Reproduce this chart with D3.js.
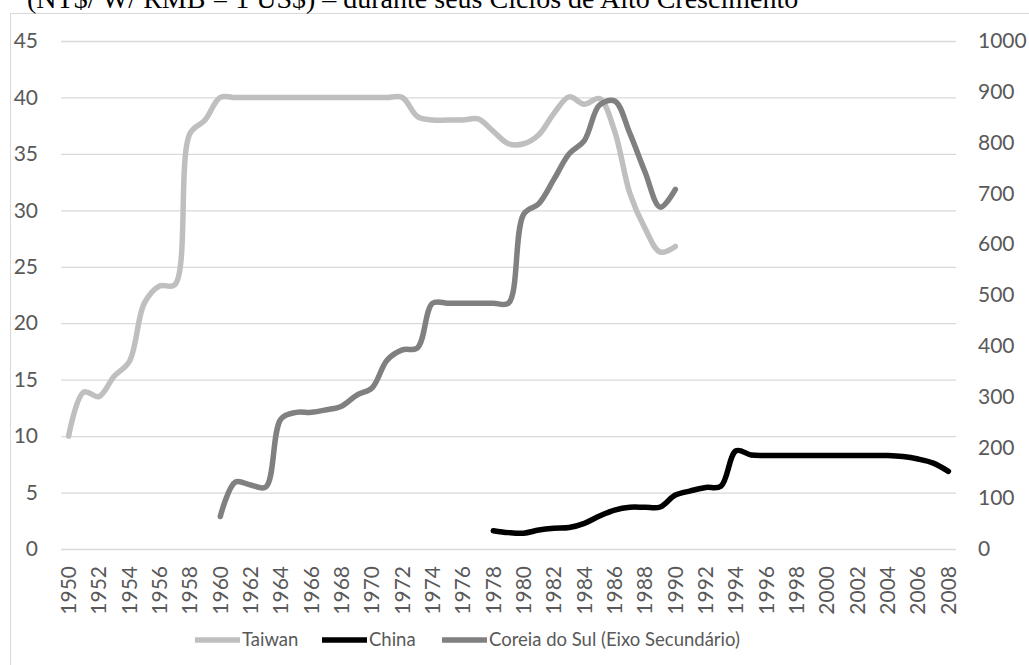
<!DOCTYPE html>
<html>
<head>
<meta charset="utf-8">
<script src="https://cdn.jsdelivr.net/npm/d3@7"></script>
<style>
  html, body { margin: 0; padding: 0; background: #fff; }
  svg { display: block; }
</style>
</head>
<body>
<svg id="chart" width="1029" height="665"></svg>
<script>
// Exchange rates per US dollar during high-growth cycles
const years = [1950, 1951, 1952, 1953, 1954, 1955, 1956, 1957, 1958, 1959,
  1960, 1961, 1962, 1963, 1964, 1965, 1966, 1967, 1968, 1969,
  1970, 1971, 1972, 1973, 1974, 1975, 1976, 1977, 1978, 1979,
  1980, 1981, 1982, 1983, 1984, 1985, 1986, 1987, 1988, 1989,
  1990, 1991, 1992, 1993, 1994, 1995, 1996, 1997, 1998, 1999,
  2000, 2001, 2002, 2003, 2004, 2005, 2006, 2007, 2008];

// Taiwan (NT$), 1950-1990, left axis
const taiwanStart = 1950;
const taiwan = [10.0, 13.9, 13.5, 15.3, 16.6, 21.8, 23.3, 23.4, 36.8, 38.0,
  40.0, 40.0, 40.0, 40.0, 40.0, 40.0, 40.0, 40.0, 40.0, 40.0,
  40.0, 40.0, 40.0, 38.3, 38.0, 38.0, 38.0, 38.1, 37.0, 35.9,
  35.9, 36.7, 38.6, 40.05, 39.4, 39.9, 37.0, 31.5, 28.4, 26.3,
  26.8];

// China (RMB), 1978-2008, left axis
const chinaStart = 1978;
const china = [1.62, 1.45, 1.40, 1.68, 1.83, 1.90, 2.27, 2.92, 3.45, 3.70,
  3.70, 3.72, 4.78, 5.15, 5.45, 5.55, 8.70, 8.33, 8.29, 8.28,
  8.28, 8.28, 8.28, 8.28, 8.28, 8.28, 8.28, 8.19, 7.97, 7.61,
  6.88];

// South Korea (W), 1960-1990, secondary (right) axis
const koreaStart = 1960;
const korea = [64, 132, 126, 122, 256, 269, 269, 274, 281, 303,
  317, 372, 392, 396, 484, 484, 484, 484, 484, 484,
  659, 680, 728, 778, 804, 874, 882, 818, 742, 673,
  708];

const leftTicks = [0, 5, 10, 15, 20, 25, 30, 35, 40, 45];
const rightTicks = [0, 100, 200, 300, 400, 500, 600, 700, 800, 900, 1000];
const xTickLabels = years.filter((y, i) => i % 2 === 0);

const titleText = "(NT$/ W/ RMB = 1 US$) \u2013 durante seus Ciclos de Alto Crescimento";
const legendLabels = ["Taiwan", "China", "Coreia do Sul (Eixo Secund\u00e1rio)"];

const colors = { taiwan: "#bfbfbf", china: "#000000", korea: "#808080" };
const textColor = "#595959";
const sansFont = "Lato, 'Open Sans', sans-serif";

const svg = d3.select("#chart");
const plot = { left: 61, right: 956, top: 41, bottom: 549 };

const x = d3.scaleBand().domain(years).range([plot.left, plot.right]).padding(0);
const xc = yr => x(yr) + x.bandwidth() / 2;
const yL = d3.scaleLinear().domain([0, 45]).range([plot.bottom, plot.top]);
const yR = d3.scaleLinear().domain([0, 1000]).range([plot.bottom, plot.top]);

// Chart frame (top and left edges)
svg.append("path")
  .attr("d", "M10.5,665 L10.5,13.5 L1029,13.5")
  .attr("fill", "none").attr("stroke", "#d9d9d9").attr("stroke-width", 1);

// Title (runs off the top edge of the frame)
svg.append("text")
  .attr("x", 27).attr("y", 8)
  .attr("font-family", "'Liberation Serif', 'Times New Roman', serif")
  .attr("font-size", 28)
  .attr("fill", "#000")
  .text(titleText);

// Left axis with horizontal gridlines
const gAxisL = svg.append("g")
  .attr("transform", `translate(${plot.left},0)`)
  .call(d3.axisLeft(yL).tickValues(leftTicks).tickFormat(d3.format("d"))
    .tickSize(-(plot.right - plot.left)).tickPadding(23));
gAxisL.select(".domain").remove();
gAxisL.selectAll(".tick line").attr("stroke", "#d9d9d9").attr("stroke-width", 1.3);
gAxisL.selectAll(".tick text")
  .attr("font-family", sansFont).attr("font-size", 21).attr("fill", textColor);

// Secondary axis on the right
const gAxisR = svg.append("g")
  .attr("transform", `translate(${plot.right},0)`)
  .call(d3.axisRight(yR).tickValues(rightTicks).tickFormat(d3.format("d"))
    .tickSize(0).tickPadding(22));
gAxisR.select(".domain").remove();
gAxisR.selectAll(".tick text")
  .attr("font-family", sansFont).attr("font-size", 21).attr("fill", textColor);

// Category axis with rotated year labels
const gAxisX = svg.append("g")
  .attr("transform", `translate(0,${plot.bottom})`)
  .call(d3.axisBottom(x).tickValues(xTickLabels).tickSize(0).tickPadding(0));
gAxisX.select(".domain").remove();
gAxisX.selectAll(".tick text")
  .attr("font-family", sansFont).attr("font-size", 21).attr("fill", textColor)
  .attr("transform", "translate(0,17) rotate(-90)")
  .attr("text-anchor", "end")
  .attr("dy", "0.35em")
  .attr("x", 0).attr("y", 0);

// Smoothed series lines
function seriesPoints(values, start) {
  return values.map((v, i) => ({ year: start + i, value: v }));
}
const curve = d3.curveCatmullRom.alpha(0.5);

function drawLine(values, start, yScale, color) {
  const line = d3.line()
    .x(d => xc(d.year))
    .y(d => yScale(d.value))
    .curve(curve);
  svg.append("path")
    .datum(seriesPoints(values, start))
    .attr("d", line)
    .attr("fill", "none")
    .attr("stroke", color)
    .attr("stroke-width", 5.5)
    .attr("stroke-linecap", "round")
    .attr("stroke-linejoin", "round");
}

drawLine(taiwan, taiwanStart, yL, colors.taiwan);
drawLine(korea, koreaStart, yR, colors.korea);
drawLine(china, chinaStart, yL, colors.china);

// Legend
const legendItems = [
  { label: legendLabels[0], color: colors.taiwan, x0: 195 },
  { label: legendLabels[1], color: colors.china, x0: 322 },
  { label: legendLabels[2], color: colors.korea, x0: 442 }
];
const legendY = 640;
const legend = svg.append("g");
legendItems.forEach(item => {
  legend.append("line")
    .attr("x1", item.x0).attr("x2", item.x0 + 45)
    .attr("y1", legendY).attr("y2", legendY)
    .attr("stroke", item.color).attr("stroke-width", 5.5);
  legend.append("text")
    .attr("x", item.x0 + 47).attr("y", legendY)
    .attr("dy", "0.35em")
    .attr("font-family", sansFont).attr("font-size", 18.5)
    .attr("fill", textColor)
    .text(item.label);
});
</script>
</body>
</html>
